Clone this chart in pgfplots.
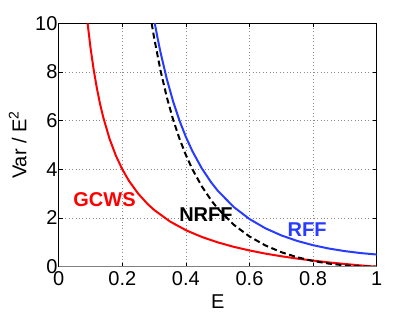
\documentclass[border=0pt]{standalone}
\usepackage{pgfplots}
\pgfplotsset{compat=1.18}
\usepackage{fontspec}
\setmainfont{Liberation Sans}
\definecolor{rffblue}{RGB}{40,60,255}
\begin{document}
\begin{tikzpicture}
\useasboundingbox (-58.7pt,-45.3pt) rectangle (356.3pt,266.7pt);
\begin{axis}[
  at={(0,0)}, anchor=south west,
  scale only axis, width=318pt, height=243.4pt,
  xmin=0, xmax=1, ymin=0, ymax=10,
  xtick={0,0.2,0.4,0.6,0.8,1},
  xticklabels={0,0.2,0.4,0.6,0.8,1},
  ytick={0,2,4,6,8,10},
  tick align=inside,
  major tick length=4pt,
  tick style={black, line width=0.5pt},
  grid=major,
  grid style={black!45, line width=0.6pt, dash pattern=on 0.8pt off 2.6pt},
  axis line style={black, line width=0.6pt},
  ticklabel style={font=\fontsize{20}{20}\selectfont},
  /pgf/number format/assume math mode=true,
  xticklabel style={yshift=-1.6pt},
  yticklabel style={xshift=2.3pt},
  xlabel={E}, ylabel={Var / E\textsuperscript{2}},
  xlabel style={font=\fontsize{20}{20}\selectfont, at={(axis description cs:0.5,0)}, anchor=center, yshift=-35.3pt},
  ylabel style={font=\fontsize{20}{20}\selectfont, at={(axis description cs:0,0.5)}, anchor=center, yshift=41pt},
  clip=true,
]
% GCWS
\addplot[red, line width=2pt] coordinates {
(0.0909,10) (0.1,9) (0.11,8.091) (0.12,7.333) (0.13,6.692) (0.14,6.143) (0.16,5.25) (0.18,4.556)
(0.2,4) (0.22,3.545) (0.25,3) (0.28,2.571) (0.3,2.333) (0.35,1.857) (0.4,1.5)
(0.45,1.222) (0.5,1) (0.55,0.818) (0.6,0.667) (0.65,0.538) (0.7,0.429) (0.75,0.333)
(0.8,0.25) (0.85,0.176) (0.9,0.111) (0.95,0.0526) (1,0)
};
% RFF
\addplot[rffblue, line width=2pt] coordinates {
(0.3021,10) (0.31,9.454) (0.32,8.817) (0.34,7.708) (0.36,6.781) (0.38,5.997) (0.4,5.33)
(0.42,4.757) (0.45,4.039) (0.48,3.455) (0.5,3.125) (0.55,2.457) (0.6,1.958) (0.65,1.578)
(0.7,1.286) (0.75,1.059) (0.8,0.8825) (0.85,0.745) (0.9,0.6396) (0.95,0.559) (1,0.5)
};
% NRFF
\addplot[black, line width=2pt, dash pattern=on 6pt off 3.5pt] coordinates {
(0.2923,10) (0.3,9.408) (0.32,8.070) (0.34,6.962) (0.36,6.035) (0.38,5.253) (0.4,4.586)
(0.42,4.015) (0.45,3.300) (0.48,2.719) (0.5,2.391) (0.55,1.730) (0.6,1.240) (0.65,0.8727)
(0.7,0.5958) (0.75,0.3881) (0.8,0.2349) (0.85,0.1258) (0.9,0.0536) (0.95,0.0129) (1,0)
};
\draw[gray, line width=2pt] (axis cs:0,0) -- (axis cs:1,0);
\node[red, font=\bfseries\fontsize{20}{20}\selectfont] at (axis cs:0.144,2.74) {GCWS};
\node[black, font=\bfseries\fontsize{20}{20}\selectfont] at (axis cs:0.463,2.12) {NRFF};
\node[rffblue, font=\bfseries\fontsize{20}{20}\selectfont] at (axis cs:0.781,1.51) {RFF};
\end{axis}
\end{tikzpicture}
\end{document}
